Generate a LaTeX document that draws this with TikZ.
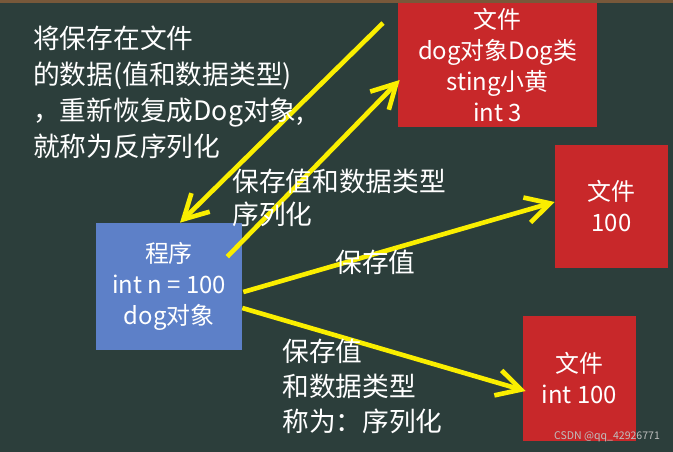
\documentclass[tikz,border=0pt]{standalone}
\usepackage{fontspec}
\setmainfont{Noto Sans CJK SC}
\usepackage{tikz}
\usetikzlibrary{positioning,arrows.meta,calc}
\definecolor{board}{RGB}{44,62,59}
\definecolor{frame}{RGB}{120,88,58}
\definecolor{brick}{RGB}{200,40,42}
\definecolor{sky}{RGB}{93,128,200}
\definecolor{chalk}{RGB}{250,238,0}

\begin{document}
\begin{tikzpicture}[x=0.025cm,y=-0.025cm,
   every node/.style={text=white,inner sep=0pt},
   note/.style={align=left,anchor=north west,font=\fontsize{19}{25.5}\selectfont},
   box/.style={align=center,font=\fontsize{17}{22}\selectfont},
   flow/.style={draw=chalk,line width=3.3pt,-{Straight Barb[length=6mm,width=6.5mm]}}]
  \useasboundingbox (0,0) rectangle (673,452);
  \fill[board] (0,0) rectangle (673,452);
  % program and files
  \node[box,fill=sky,minimum width=3.65cm,minimum height=3.175cm] (prog) at (169,286.5) {程序\\int n = 100\\dog对象};
  \node[box,fill=brick,minimum width=4.975cm,minimum height=3.1cm] (fileA) at (497.5,65) {文件\\dog对象Dog类\\sting小黄\\int 3};
  \node[box,fill=brick,minimum width=2.825cm,minimum height=3.075cm] (fileB) at (611.5,206.5) {文件\\100};
  \node[box,fill=brick,minimum width=2.825cm,minimum height=3.125cm] (fileC) at (579.5,378.5) {文件\\int 100};
  \fill[frame] (0,0) rectangle (673,3.5);
  % arrows
  \coordinate (from file) at (383,23);
  \draw[flow] (from file) -- ($(prog.north)+(11,0)$);
  \draw[flow] ($(prog.north east)+(-15,34)$) -- ($(fileA.west)+(2,15)$);
  \draw[flow] ($(prog.east)+(1,5.5)$) -- ($(fileB.west)+(0,-4.5)$);
  \draw[flow] ($(prog.east)+(0,21.5)$) -- ($(fileC.west)+(3,12.5)$);
  % labels
  \node[note] (restore) at (33,26) {将保存在文件\\的数据(值和数据类型)\\，重新恢复成Dog对象,\\就称为反序列化};
  \node[note,font=\fontsize{19}{23.4}\selectfont] (both) at (232,169) {保存值和数据类型\\序列化};
  \node[note] (value) at (335,250) {保存值};
  \node[note,font=\fontsize{19}{24.8}\selectfont] (typed) at (282,339) {保存值\\和数据类型\\称为：序列化};
  \node[font=\fontsize{7.5}{9}\selectfont,text=white!75!black] (mark) at (607,437) {CSDN @qq\_42926771};
\end{tikzpicture}
\end{document}
